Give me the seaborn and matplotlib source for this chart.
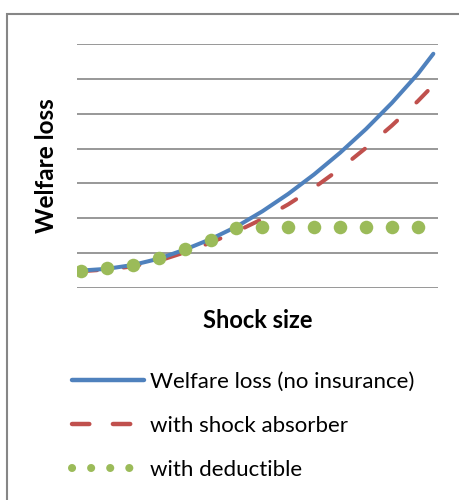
import matplotlib
matplotlib.use("Agg")
import matplotlib.pyplot as plt
from matplotlib.lines import Line2D
from matplotlib.patches import Rectangle
import seaborn as sns
import pandas as pd

# shock size (x) and welfare loss (y)
shock_curve = [0, 1, 2, 3, 4, 5, 6, 7, 8, 9, 10, 11, 12, 13, 13.6]
loss_no_insurance = [0.50, 0.55, 0.66, 0.84, 1.10, 1.40, 1.76, 2.20, 2.70, 3.26, 3.88, 4.56, 5.31, 6.14, 6.72]
loss_absorber = [0.48, 0.53, 0.62, 0.78, 1.02, 1.30, 1.62, 1.98, 2.40, 2.88, 3.42, 4.02, 4.66, 5.36, 5.82]

shock_dots = [0, 1, 2, 3, 4, 5, 6, 7, 8, 9, 10, 11, 12, 13]
loss_deductible = [0.50, 0.56, 0.66, 0.85, 1.11, 1.38, 1.71, 1.74, 1.74, 1.74, 1.74, 1.74, 1.74, 1.74]

labels = ["Welfare loss (no insurance)", "with shock absorber", "with deductible"]
colors = ["#4F81BD", "#C0504D", "#9BBB59"]


def draw_figure():
    sns.set_style("white")
    plt.rcParams['font.family'] = ['Lato', 'DejaVu Sans']
    plt.rcParams['text.color'] = 'black'
    plt.rcParams['axes.labelcolor'] = 'black'

    fig = plt.figure(figsize=(4.6, 5.0), dpi=100)
    ax = fig.add_axes([77 / 460, 1 - 288 / 500, 361 / 460, 244 / 500])

    df_curve = pd.DataFrame({"shock": shock_curve, "blue": loss_no_insurance, "red": loss_absorber})
    df_dots = pd.DataFrame({"shock": shock_dots, "green": loss_deductible})

    sns.lineplot(data=df_curve, x="shock", y="blue", ax=ax, color=colors[0],
                 linewidth=2.9, solid_capstyle="round", solid_joinstyle="round", zorder=3)
    sns.lineplot(data=df_curve, x="shock", y="red", ax=ax, color=colors[1],
                 linewidth=2.9, dashes=False, zorder=2)
    ax.lines[-1].set_dashes((4.0, 6.6))
    ax.lines[-1].set_dash_capstyle("round")
    sns.scatterplot(data=df_dots, x="shock", y="green", ax=ax, color=colors[2],
                    s=95, linewidth=0, zorder=4)

    ax.set_xlim(-0.155, 13.78)
    ax.set_ylim(0, 7)
    ax.set_yticks(range(0, 8))
    ax.set_xticks([])
    ax.yaxis.grid(True, color="#868686", linewidth=1.2)
    ax.tick_params(left=False, labelleft=False)
    for s in ax.spines.values():
        s.set_visible(False)

    ax.set_ylabel("Welfare loss", fontsize=17.5, fontweight="bold")
    ax.yaxis.set_label_coords(-0.053, 0.5)
    ax.set_xlabel("Shock size", fontsize=17, fontweight="bold")
    ax.xaxis.set_label_coords(0.5, -0.086)

    handles = [
        Line2D([], [], color=colors[0], linewidth=3.2, solid_capstyle="round"),
        Line2D([], [], color=colors[1], linewidth=3.2, dashes=(3.9, 5.3), dash_capstyle="round"),
        Line2D([], [], color=colors[2], linewidth=5.8, dashes=(0.01, 2.36), dash_capstyle="round"),
    ]
    fig.legend(handles, labels, loc="upper left", bbox_to_anchor=(52 / 460, 1 - 352 / 500),
               frameon=False, fontsize=16, handlelength=3.25, handletextpad=0.27,
               labelspacing=1.08)

    # outer chart frame (only left and top visible in the crop)
    fig.patches.append(Rectangle((7.5 / 460, -0.1), 1.2, 1.1 - 14.5 / 500,
                                 transform=fig.transFigure, fill=False,
                                 edgecolor="#868686", linewidth=1.5))
    return fig


fig = draw_figure()
fig.savefig("out.png", dpi=100)
plt.close(fig)
